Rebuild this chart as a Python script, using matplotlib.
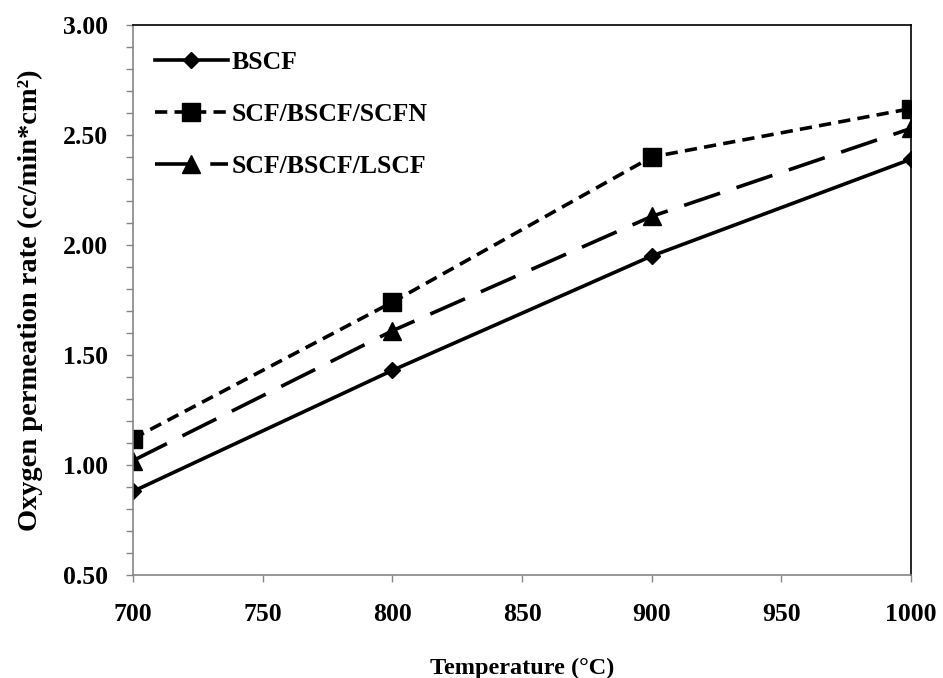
import matplotlib
matplotlib.use("Agg")
import matplotlib.pyplot as plt
from matplotlib.ticker import MultipleLocator, FormatStrFormatter

plt.rcParams["font.family"] = "Liberation Serif"
plt.rcParams["font.weight"] = "bold"

temperature = [700, 800, 900, 1000]
bscf = [0.88, 1.43, 1.95, 2.39]
scf_bscf_scfn = [1.12, 1.74, 2.40, 2.62]
scf_bscf_lscf = [1.02, 1.61, 2.13, 2.53]
series_names = ["BSCF", "SCF/BSCF/SCFN", "SCF/BSCF/LSCF"]

GREY = "#868686"

fig = plt.figure(figsize=(9.43, 6.78), dpi=100)
ax = fig.add_axes([133 / 943, 1 - 575 / 678, (911 - 133) / 943, (575 - 25) / 678])

lw = 2.6
ax.plot(temperature, bscf, color="black", lw=lw, marker="D", ms=8.5,
        label=series_names[0])
ax.plot(temperature, scf_bscf_scfn, color="black", lw=lw, marker="s", ms=13,
        dashes=(3.4, 2.0), label=series_names[1])
ax.plot(temperature, scf_bscf_lscf, color="black", lw=lw, marker="^", ms=13,
        dashes=(10.5, 4.8), label=series_names[2])

ax.set_xlim(700, 1000)
ax.set_ylim(0.5, 3.0)
ax.xaxis.set_major_locator(MultipleLocator(50))
ax.yaxis.set_major_locator(MultipleLocator(0.5))
ax.yaxis.set_minor_locator(MultipleLocator(0.1))
ax.yaxis.set_major_formatter(FormatStrFormatter("%.2f"))

# Excel-like frame: grey value axes, thin black plot-area border
for side in ("left", "bottom"):
    ax.spines[side].set_color(GREY)
    ax.spines[side].set_linewidth(1.2)
for side in ("top", "right"):
    ax.spines[side].set_color("black")
    ax.spines[side].set_linewidth(1.2)

ax.tick_params(axis="both", which="both", direction="out", color=GREY,
               length=5, width=1.0, labelsize=18.5)
ax.tick_params(axis="y", which="major", pad=13)
ax.tick_params(axis="x", which="major", pad=15)
ax.tick_params(axis="x", which="minor", bottom=False)

ax.set_xlabel("Temperature (\u00b0C)", fontsize=17.5, fontweight="bold", labelpad=23)
ax.set_ylabel("Oxygen permeation rate (cc/min*cm\u00b2)", fontsize=20.5,
              fontweight="bold", labelpad=14.5)

ax.legend(loc="upper left", frameon=False, fontsize=18.5, handlelength=2.84,
          handletextpad=0.15, labelspacing=1.13, borderpad=0, borderaxespad=0,
          bbox_to_anchor=(0.028, 0.953))

fig.savefig("out.png", dpi=100)
